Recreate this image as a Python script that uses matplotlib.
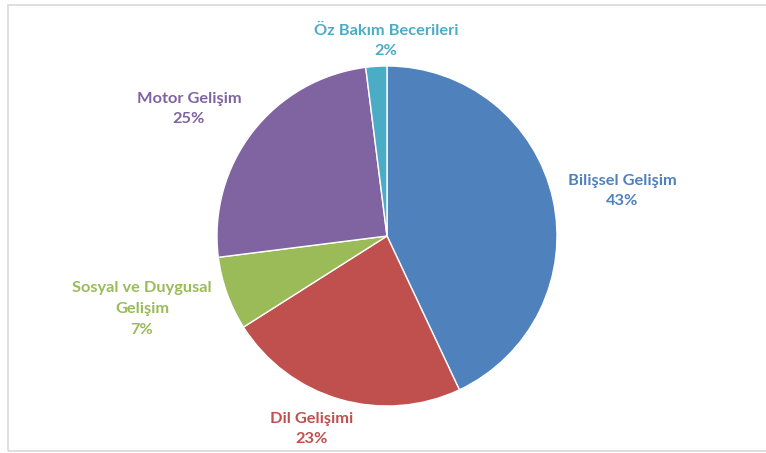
import matplotlib.pyplot as plt
from matplotlib.patches import Rectangle

labels = ["Bilişsel Gelişim", "Dil Gelişimi", "Sosyal ve Duygusal\nGelişim",
          "Motor Gelişim", "Öz Bakım Becerileri"]
values = [43, 23, 7, 25, 2]
colors = ["#4F81BD", "#C0504D", "#9BBB59", "#8064A2", "#4BACC6"]

# label block centres in pixels (x, y from top)
label_px = [(622, 191), (312, 429), (142, 309), (189, 109), (386, 41)]

W, H = 766, 453
cx, cy, r = 387, 236, 170

fig = plt.figure(figsize=(W / 100, H / 100), dpi=100)
fig.patch.set_facecolor("white")

# light frame around the chart area
fig.patches.append(Rectangle((8 / W, 2 / H), 1.0, (H - 7) / H, transform=fig.transFigure,
                             fill=False, edgecolor="#d9d9d9", linewidth=1.2))

ax = fig.add_axes([(cx - r) / W, (H - cy - r) / H, 2 * r / W, 2 * r / H])
ax.pie(values, colors=colors, startangle=90, counterclock=False, radius=1,
       wedgeprops=dict(edgecolor="white", linewidth=1))
ax.set_xlim(-1, 1)
ax.set_ylim(-1, 1)
ax.set_aspect("equal")
ax.axis("off")

for lab, val, col, (px, py) in zip(labels, values, colors, label_px):
    x = (px - cx) / r
    y = (cy - py) / r
    ax.text(x, y, f"{lab}\n{val}%", color=col, ha="center", va="center",
            fontsize=11.8, fontweight="bold", family="Lato", linespacing=1.6,
            clip_on=False)

fig.savefig("out.png", dpi=100)
